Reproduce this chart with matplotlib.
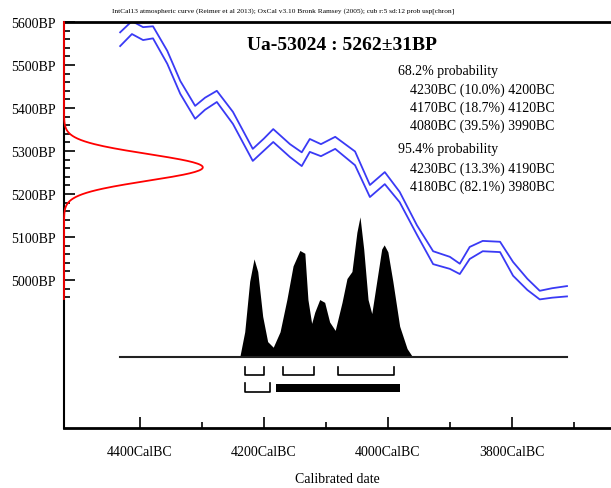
import numpy as np
import matplotlib
matplotlib.use("Agg")
import matplotlib.pyplot as plt
from matplotlib.ticker import FixedLocator, FuncFormatter

plt.rcParams['font.family'] = ['Liberation Serif', 'DejaVu Serif']

# calibration curve (IntCal13), cal BC vs radiocarbon age BP
cal_bc = [4432, 4413, 4395, 4379, 4356, 4335, 4311, 4295, 4276, 4250, 4218,
          4200, 4185, 4158, 4139, 4126, 4108, 4085, 4053, 4029, 4005, 3981,
          3953, 3927, 3900, 3884, 3868, 3847, 3819, 3798, 3775, 3755, 3735, 3711]
curve_bp = [5560, 5587, 5573, 5576, 5518, 5448, 5390, 5410, 5427, 5377, 5291,
            5315, 5336, 5301, 5281, 5313, 5302, 5319, 5283, 5207, 5237, 5193,
            5116, 5052, 5040, 5026, 5063, 5079, 5077, 5026, 4990, 4965, 4970, 4974]
curve_err = [16, 15, 15, 14, 15, 15, 15, 14, 13, 14, 14,
             14, 15, 15, 16, 15, 14, 14, 16, 14, 14, 12,
             11, 15, 14, 12, 14, 12, 12, 16, 13, 10, 11, 12]

# measured date
lab_code = "Ua-53024"
c14_age = 5262
c14_err = 31

# posterior (calibrated) probability, relative
post_bc = [4239, 4231, 4223, 4216, 4210, 4202, 4194, 4185, 4174, 4163, 4153,
           4142, 4134, 4129, 4123, 4118, 4110, 4102, 4094, 4085, 4074, 4066,
           4058, 4050, 4045, 4039, 4032, 4026, 4018, 4010, 4006, 4000, 3992,
           3981, 3969, 3960]
post_rel = [0.0, 0.18, 0.54, 0.70, 0.61, 0.29, 0.11, 0.07, 0.18, 0.41, 0.65,
            0.76, 0.74, 0.41, 0.24, 0.32, 0.41, 0.39, 0.25, 0.19, 0.39, 0.56,
            0.61, 0.89, 1.00, 0.77, 0.41, 0.31, 0.54, 0.77, 0.80, 0.75, 0.54,
            0.22, 0.06, 0.0]

ranges_68 = [(4230, 4200, 10.0), (4170, 4120, 18.7), (4080, 3990, 39.5)]
ranges_95 = [(4230, 4190, 13.3), (4180, 3980, 82.1)]

header = ("IntCal13 atmospheric curve (Reimer et al 2013); OxCal v3.10 "
          "Bronk Ramsey (2005); cub r:5 sd:12 prob usp[chron]")

W, H = 611, 489
fig = plt.figure(figsize=(W / 100, H / 100), dpi=100)
ax = fig.add_axes([64 / W, (H - 429) / H, (W - 64) / W, (429 - 23) / H])
x_left, x_right = 4522.6, 3640
ax.set_xlim(x_left, x_right)
ax.set_ylim(4656, 5600)

cal = np.array(cal_bc)
mid = np.array(curve_bp)
err = np.array(curve_err)
blue = '#3a3af5'
ax.plot(cal, mid + err, color=blue, lw=1.3)
ax.plot(cal, mid - err, color=blue, lw=1.3)

# radiocarbon date distribution on the y axis
yy = np.linspace(4956, 5600, 400)
xx = x_left - 224 * np.exp(-0.5 * ((yy - c14_age) / c14_err) ** 2)
ax.plot(xx, yy, color='red', lw=1.3, clip_on=False, zorder=2.6)

# posterior distribution
base = 4821
ax.fill_between(post_bc, base, base + np.array(post_rel) * 326,
                color='black', lw=0)
ax.plot([cal_bc[0], cal_bc[-1]], [base, base], color='#222222', lw=1.5)

# range brackets
def bracket(a, b, top, bot):
    ax.plot([a, a, b, b], [top, bot, bot, top], color='black', lw=1.2)

for a, b, p in ranges_68:
    bracket(a, b, 4798, 4779)
for a, b, p in ranges_95:
    if p > 50:
        ax.fill_between([a, b], 4740, 4759, color='black', lw=0)
    else:
        bracket(a, b, 4761, 4740)

# axes styling
ax.spines['left'].set_linewidth(1.5)
ax.spines['bottom'].set_linewidth(2)
ax.spines['top'].set_linewidth(2)
ax.spines['right'].set_visible(False)

ax.yaxis.set_major_locator(FixedLocator(range(5000, 5601, 100)))
ax.yaxis.set_minor_locator(FixedLocator(range(4960, 5601, 20)))
ax.xaxis.set_major_locator(FixedLocator([4400, 4200, 4000, 3800]))
ax.xaxis.set_minor_locator(FixedLocator([4300, 4100, 3900, 3700]))
ax.yaxis.set_major_formatter(FuncFormatter(lambda v, p: f"{int(v)}BP"))
ax.xaxis.set_major_formatter(FuncFormatter(lambda v, p: f"{int(v)}CalBC"))
ax.tick_params(which='both', direction='in', width=1.2, labelsize=10, color='black')
ax.tick_params(which='major', length=8)
ax.tick_params(which='minor', length=4)
ax.tick_params(axis='x', pad=12)
ax.tick_params(axis='y', pad=6)
ax.set_xlabel("Calibrated date", fontsize=10, labelpad=10)

fig.text(112 / W, 1 - 11 / H, header, fontsize=5.3, va='center')
fig.text(342 / W, 1 - 46 / H, f"{lab_code} : {c14_age}\u00b1{c14_err}BP",
         fontsize=14, fontweight='bold', ha='center', va='center')

lines = [("68.2% probability", 398)]
lines += [(f"{a}BC ({p}%) {b}BC", 410) for a, b, p in ranges_68]
lines += [("95.4% probability", 398)]
lines += [(f"{a}BC ({p}%) {b}BC", 410) for a, b, p in ranges_95]
ys = [72, 90, 108, 126, 150, 169, 187]
for (t, x), y in zip(lines, ys):
    fig.text(x / W, 1 - y / H, t, fontsize=10, va='center')

fig.savefig("out.png", dpi=100)
